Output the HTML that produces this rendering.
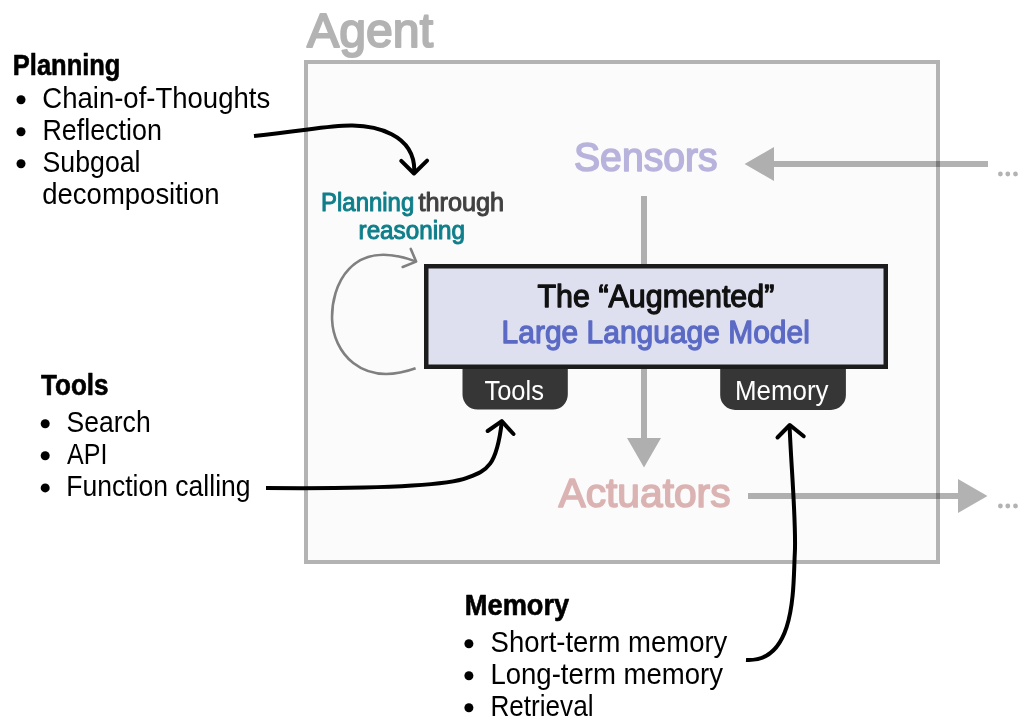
<!DOCTYPE html>
<html><head><meta charset="utf-8"><style>
html,body{margin:0;padding:0;background:#fff;width:1032px;height:720px;overflow:hidden}
svg{display:block;will-change:transform}
text{font-family:"Liberation Sans",sans-serif}
</style></head><body>
<svg width="1032" height="720" viewBox="0 0 1032 720">
<!-- agent box -->
<rect x="306" y="62" width="632" height="500" fill="#fbfbfb" stroke="#b3b3b3" stroke-width="4"/>
<!-- gray arrows -->
<g fill="rgba(0,0,0,0.3)">
 <path d="M744.6,164 L774,147 L774,161 L988,161 L988,167 L774,167 L774,181 Z"/>
 <path d="M641,196 L647,196 L647,438 L661,438 L644,467.5 L627,438 L641,438 Z"/>
 <path d="M748,493 L958,493 L958,479 L987.5,496 L958,513 L958,499 L748,499 Z"/>
</g>
<g fill="#b3b3b3">
 <circle cx="1000.4" cy="174" r="2.4"/><circle cx="1007.8" cy="174" r="2.4"/><circle cx="1015.5" cy="174" r="2.4"/>
 <circle cx="1000.4" cy="506" r="2.4"/><circle cx="1007.8" cy="506" r="2.4"/><circle cx="1015.5" cy="506" r="2.4"/>
</g>
<!-- tabs -->
<path d="M462.5,366 H567.8 V394.6 A15,15 0 0 1 552.8,409.6 H477.5 A15,15 0 0 1 462.5,394.6 Z" fill="#363636"/>
<path d="M720.2,366 H845.9 V395 A15,15 0 0 1 830.9,410 H735.2 A15,15 0 0 1 720.2,395 Z" fill="#363636"/>
<!-- LLM box -->
<rect x="426.25" y="266.25" width="459.5" height="100.5" fill="#dee0f0" stroke="#1c1c1c" stroke-width="4.5"/>
<!-- loop arrow -->
<path d="M415.6,368.3 C359.7,388.2 333.1,350.6 332.1,319.8 C330.9,286.5 350.7,236.7 416.1,261.6" fill="none" stroke="#808080" stroke-width="2.6"/>
<path d="M410.8,248.9 L416.1,261.6 L402.7,267" fill="none" stroke="#808080" stroke-width="2.6" stroke-linecap="round" stroke-linejoin="round"/>
<!-- black arrows -->
<g fill="none" stroke="#000" stroke-width="4" stroke-linecap="round" stroke-linejoin="round">
 <path d="M254,136 C312,129.6 332.3,125 352.5,125.5 C373,125.9 415.7,132.6 414.3,172.5" stroke-linecap="butt"/>
 <path d="M401.25,160.8 L414,173.5 L427.1,160.6"/>
 <path d="M266,488 C375.5,488.9 447.5,485.4 467,477.9 C486.7,470.3 496.4,467.5 501.8,422" stroke-linecap="butt"/>
 <path d="M487.7,431 L501.8,421.2 L513.5,434"/>
 <path d="M746,660 C796.4,663.1 793,585.7 794.8,553.7 C796.5,524.2 790.8,461.9 789.6,426" stroke-linecap="butt"/>
 <path d="M777.5,437.5 L789.8,425 L803.75,436.25"/>
</g>

<circle cx="21" cy="99.75" r="4.5" fill="#000"/>
<circle cx="21" cy="131.75" r="4.5" fill="#000"/>
<circle cx="21" cy="163.75" r="4.5" fill="#000"/>
<circle cx="45.2" cy="423.7" r="4.5" fill="#000"/>
<circle cx="45.2" cy="455.7" r="4.5" fill="#000"/>
<circle cx="45.2" cy="487.9" r="4.5" fill="#000"/>
<circle cx="468.9" cy="643.75" r="4.5" fill="#000"/>
<circle cx="468.9" cy="675.75" r="4.5" fill="#000"/>
<circle cx="468.9" cy="707.7" r="4.5" fill="#000"/>
<text x="307.0" y="46.7" font-size="49" font-weight="normal" textLength="126.09" lengthAdjust="spacingAndGlyphs" fill="#b3b3b3" stroke="#b3b3b3" stroke-width="2" stroke-linejoin="round">Agent</text>
<text x="12.8" y="75.3" font-size="28.6" font-weight="bold" textLength="107.64" lengthAdjust="spacingAndGlyphs" fill="#000" stroke="#000" stroke-width="0.6" stroke-linejoin="round">Planning</text>
<text x="42.3" y="107.75" font-size="29" font-weight="normal" textLength="227.88" lengthAdjust="spacingAndGlyphs" fill="#000">Chain-of-Thoughts</text>
<text x="42.4" y="139.75" font-size="29" font-weight="normal" textLength="119.48" lengthAdjust="spacingAndGlyphs" fill="#000">Reflection</text>
<text x="42.5" y="171.75" font-size="29" font-weight="normal" textLength="98.05" lengthAdjust="spacingAndGlyphs" fill="#000">Subgoal</text>
<text x="42.3" y="203.75" font-size="29" font-weight="normal" textLength="177.25" lengthAdjust="spacingAndGlyphs" fill="#000">decomposition</text>
<text x="41.0" y="395.3" font-size="28.6" font-weight="bold" textLength="67.52" lengthAdjust="spacingAndGlyphs" fill="#000" stroke="#000" stroke-width="0.6" stroke-linejoin="round">Tools</text>
<text x="66.6" y="431.7" font-size="29" font-weight="normal" textLength="84.04" lengthAdjust="spacingAndGlyphs" fill="#000">Search</text>
<text x="67.0" y="463.7" font-size="29" font-weight="normal" textLength="40.38" lengthAdjust="spacingAndGlyphs" fill="#000">API</text>
<text x="66.25" y="495.9" font-size="29" font-weight="normal" textLength="184.3" lengthAdjust="spacingAndGlyphs" fill="#000">Function calling</text>
<text x="464.8" y="615.45" font-size="28.6" font-weight="bold" textLength="104.43" lengthAdjust="spacingAndGlyphs" fill="#000" stroke="#000" stroke-width="0.6" stroke-linejoin="round">Memory</text>
<text x="490.6" y="651.75" font-size="29" font-weight="normal" textLength="236.73" lengthAdjust="spacingAndGlyphs" fill="#000">Short-term memory</text>
<text x="490.4" y="683.75" font-size="29" font-weight="normal" textLength="232.67" lengthAdjust="spacingAndGlyphs" fill="#000">Long-term memory</text>
<text x="490.4" y="715.7" font-size="29" font-weight="normal" textLength="103.1" lengthAdjust="spacingAndGlyphs" fill="#000">Retrieval</text>
<text x="574.0" y="171.0" font-size="40.8" font-weight="normal" textLength="143.61" lengthAdjust="spacingAndGlyphs" fill="#b8b3dc" stroke="#b8b3dc" stroke-width="1.6" stroke-linejoin="round">Sensors</text>
<text x="558.5" y="506.95" font-size="40.6" font-weight="normal" textLength="172.02" lengthAdjust="spacingAndGlyphs" fill="#dbb3b3" stroke="#dbb3b3" stroke-width="1.6" stroke-linejoin="round">Actuators</text>
<text x="537.5" y="307.05" font-size="31.6" font-weight="normal" textLength="236.83" lengthAdjust="spacingAndGlyphs" fill="#111" stroke="#111" stroke-width="1.3" stroke-linejoin="round">The “Augmented”</text>
<text x="501.6" y="343.1" font-size="31.6" font-weight="normal" textLength="308.23" lengthAdjust="spacingAndGlyphs" fill="#5b6ac4" stroke="#5b6ac4" stroke-width="1.3" stroke-linejoin="round">Large Language Model</text>
<text x="321.0" y="211.3" font-size="25" font-weight="normal" textLength="93.26" lengthAdjust="spacingAndGlyphs" fill="#0f7f8a" stroke="#0f7f8a" stroke-width="1.0" stroke-linejoin="round">Planning</text>
<text x="418.5" y="211.3" font-size="25" font-weight="normal" textLength="85.61" lengthAdjust="spacingAndGlyphs" fill="#404040" stroke="#404040" stroke-width="1.0" stroke-linejoin="round">through</text>
<text x="358.6" y="239.3" font-size="25" font-weight="normal" textLength="106.36" lengthAdjust="spacingAndGlyphs" fill="#0f7f8a" stroke="#0f7f8a" stroke-width="1.0" stroke-linejoin="round">reasoning</text>
<text x="484.4" y="400.0" font-size="27" font-weight="normal" textLength="59.54" lengthAdjust="spacingAndGlyphs" fill="#fff">Tools</text>
<text x="735.0" y="400.0" font-size="27" font-weight="normal" textLength="93.46" lengthAdjust="spacingAndGlyphs" fill="#fff">Memory</text>
</svg>
</body></html>
